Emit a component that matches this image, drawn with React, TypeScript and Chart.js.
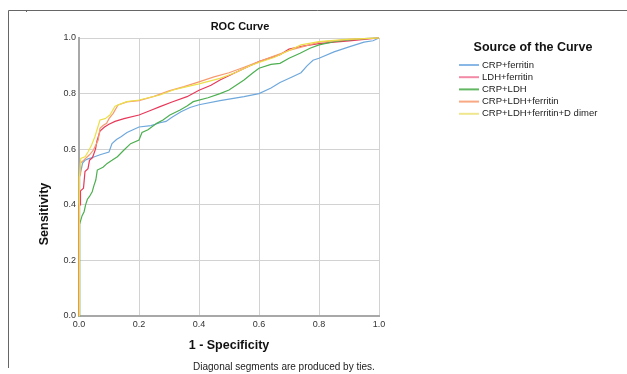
import React, { useEffect, useRef } from "react";
import { Chart, registerables } from "chart.js";

Chart.register(...registerables);

// ---- data (1 - specificity, sensitivity) ----
const seriesNames = [
  "CRP+ferritin",
  "LDH+ferritin",
  "CRP+LDH",
  "CRP+LDH+ferritin",
  "CRP+LDH+ferritin+D dimer",
];
const seriesColors = ["#6fa8dc", "#e8385a", "#4caf50", "#f79a6e", "#ece04a"];
const legendColors = ["#8ab8e6", "#f28aa6", "#62b862", "#f8a882", "#efe68e"];

const crpFerritin: [number, number][] = [
  [0, 0], [0, 0.33], [0.003, 0.34], [0.003, 0.5], [0.012, 0.55], [0.02, 0.56],
  [0.03, 0.565], [0.045, 0.57], [0.07, 0.58], [0.1, 0.59], [0.11, 0.62],
  [0.125, 0.635], [0.14, 0.645], [0.16, 0.66], [0.18, 0.67], [0.2, 0.68],
  [0.24, 0.685], [0.27, 0.695], [0.29, 0.7], [0.31, 0.715], [0.34, 0.735],
  [0.37, 0.75], [0.4, 0.76], [0.47, 0.775], [0.55, 0.789], [0.6, 0.8],
  [0.64, 0.82], [0.67, 0.84], [0.71, 0.86], [0.74, 0.875], [0.76, 0.9],
  [0.78, 0.92], [0.8, 0.927], [0.85, 0.95], [0.9, 0.968], [0.95, 0.985],
  [0.98, 0.99], [1, 1],
];

const ldhFerritin: [number, number][] = [
  [0, 0], [0, 0.4], [0.005, 0.4], [0.005, 0.45], [0.015, 0.46], [0.02, 0.52],
  [0.03, 0.53], [0.035, 0.56], [0.045, 0.57], [0.055, 0.6], [0.06, 0.63],
  [0.07, 0.665], [0.085, 0.68], [0.1, 0.69], [0.12, 0.7], [0.15, 0.71],
  [0.2, 0.723], [0.24, 0.74], [0.27, 0.753], [0.31, 0.77], [0.36, 0.789],
  [0.4, 0.812], [0.44, 0.83], [0.47, 0.849], [0.52, 0.875], [0.57, 0.9],
  [0.6, 0.915], [0.67, 0.94], [0.7, 0.96], [0.75, 0.972], [0.8, 0.98],
  [0.85, 0.985], [0.9, 0.99], [0.95, 0.995], [1, 1],
];

const crpLdh: [number, number][] = [
  [0, 0], [0, 0.17], [0.003, 0.17], [0.003, 0.33], [0.01, 0.36], [0.017, 0.375],
  [0.022, 0.4], [0.028, 0.42], [0.035, 0.43], [0.044, 0.447], [0.05, 0.47],
  [0.056, 0.489], [0.061, 0.525], [0.08, 0.535], [0.094, 0.549], [0.11, 0.56],
  [0.128, 0.573], [0.15, 0.597], [0.172, 0.62], [0.2, 0.633], [0.21, 0.66],
  [0.23, 0.67], [0.259, 0.693], [0.28, 0.705], [0.303, 0.723], [0.337, 0.741],
  [0.36, 0.755], [0.381, 0.771], [0.43, 0.785], [0.47, 0.8], [0.5, 0.813],
  [0.55, 0.849], [0.58, 0.875], [0.6, 0.891], [0.64, 0.905], [0.67, 0.909],
  [0.7, 0.927], [0.737, 0.945], [0.77, 0.963], [0.8, 0.975], [0.85, 0.987],
  [0.9, 0.993], [0.95, 0.998], [1, 1],
];

const crpLdhFerritin: [number, number][] = [
  [0, 0], [0, 0.5], [0.005, 0.51], [0.005, 0.55], [0.015, 0.56], [0.025, 0.57],
  [0.035, 0.58], [0.048, 0.597], [0.058, 0.62], [0.064, 0.633], [0.07, 0.675],
  [0.08, 0.685], [0.092, 0.693], [0.1, 0.71], [0.114, 0.729], [0.13, 0.759],
  [0.16, 0.77], [0.2, 0.775], [0.25, 0.79], [0.3, 0.81], [0.35, 0.825],
  [0.4, 0.842], [0.45, 0.86], [0.5, 0.875], [0.55, 0.895], [0.6, 0.915],
  [0.65, 0.935], [0.7, 0.955], [0.75, 0.97], [0.8, 0.985], [0.85, 0.99],
  [0.9, 0.995], [0.95, 0.998], [1, 1],
];

const crpLdhFerritinDdimer: [number, number][] = [
  [0, 0], [0, 0.5], [0.003, 0.5], [0.006, 0.567], [0.02, 0.573], [0.03, 0.59],
  [0.042, 0.615], [0.053, 0.645], [0.06, 0.67], [0.07, 0.705], [0.087, 0.71],
  [0.103, 0.723], [0.12, 0.755], [0.159, 0.771], [0.2, 0.777], [0.27, 0.795],
  [0.314, 0.813], [0.36, 0.825], [0.4, 0.835], [0.47, 0.855], [0.52, 0.875],
  [0.57, 0.9], [0.6, 0.912], [0.65, 0.93], [0.7, 0.955], [0.74, 0.975],
  [0.8, 0.987], [0.89, 0.995], [1, 1],
];

const seriesData = [crpFerritin, ldhFerritin, crpLdh, crpLdhFerritin, crpLdhFerritinDdimer];
const tickValues = [0, 0.2, 0.4, 0.6, 0.8, 1.0];

const chartTitle = "ROC Curve";
const xTitle = "1 - Specificity";
const yTitle = "Sensitivity";
const legendTitle = "Source of the Curve";
const footnote = "Diagonal segments are produced by ties.";

const FONT = "'Liberation Sans', Arial, sans-serif";

const decorPlugin = {
  id: "decor",
  afterDraw(chart: any) {
    const ctx = chart.ctx as CanvasRenderingContext2D;
    const area = chart.chartArea;
    ctx.save();
    // outer frame
    ctx.strokeStyle = "#666";
    ctx.lineWidth = 1;
    ctx.beginPath();
    ctx.moveTo(8.5, 368);
    ctx.lineTo(8.5, 10.5);
    ctx.lineTo(627, 10.5);
    ctx.stroke();
    ctx.beginPath();
    ctx.moveTo(26.5, 10);
    ctx.lineTo(26.5, 12);
    ctx.stroke();

    ctx.fillStyle = "#111";
    ctx.textBaseline = "middle";
    // title
    ctx.textAlign = "center";
    ctx.font = `bold 11px ${FONT}`;
    ctx.fillText(chartTitle, 240, 27);
    // x title
    ctx.font = `bold 12.5px ${FONT}`;
    ctx.fillText(xTitle, (area.left + area.right) / 2, 346);
    // y title
    ctx.save();
    ctx.translate(45, 214);
    ctx.rotate(-Math.PI / 2);
    ctx.fillText(yTitle, 0, 0);
    ctx.restore();
    // footnote
    ctx.textAlign = "left";
    ctx.font = `10px ${FONT}`;
    ctx.fillStyle = "#222";
    ctx.fillText(footnote, 193, 367);
    // legend
    ctx.textAlign = "center";
    ctx.fillStyle = "#111";
    ctx.font = `bold 12.5px ${FONT}`;
    ctx.fillText(legendTitle, 533, 48);
    ctx.textAlign = "left";
    ctx.font = `9.5px ${FONT}`;
    seriesNames.forEach((name, i) => {
      const y = 65 + 12.2 * i;
      ctx.strokeStyle = legendColors[i];
      ctx.lineWidth = 2;
      ctx.beginPath();
      ctx.moveTo(459, y);
      ctx.lineTo(479, y);
      ctx.stroke();
      ctx.fillStyle = "#222";
      ctx.fillText(name, 482, y);
    });
    ctx.restore();
  },
};

export default function App() {
  const ref = useRef<HTMLCanvasElement | null>(null);
  useEffect(() => {
    if (!ref.current) return;
    const axisCommon = {
      type: "linear" as const,
      min: 0,
      max: 1,
      afterBuildTicks: (s: any) => {
        s.ticks = tickValues.map((v) => ({ value: v }));
      },
      grid: { color: "#d2d2d2", lineWidth: 1, drawTicks: false },
      border: { color: "#a8a8a8", width: 2 },
      ticks: {
        color: "#333",
        font: { family: FONT, size: 9 },
        autoSkip: false,
        maxRotation: 0,
        callback: (v: any) => Number(v).toFixed(1),
      },
    };
    const chart = new Chart(ref.current, {
      type: "scatter",
      data: {
        datasets: seriesData.map((d, i) => ({
          label: seriesNames[i],
          data: d.map(([x, y]) => ({ x, y })),
          showLine: true,
          borderColor: seriesColors[i],
          backgroundColor: seriesColors[i],
          borderWidth: 1.2,
          pointRadius: 0,
          fill: false,
          tension: 0,
          clip: false as any,
          order: 5 - i,
        })),
      },
      options: {
        animation: false,
        responsive: false,
        devicePixelRatio: 1,
        layout: { padding: { top: 38, right: 248, left: 0, bottom: 0 } },
        plugins: { legend: { display: false }, tooltip: { enabled: false }, title: { display: false } },
        scales: {
          x: {
            ...axisCommon,
            afterFit: (s: any) => {
              s.height = 58;
            },
            ticks: { ...axisCommon.ticks, padding: 3 },
          },
          y: {
            ...axisCommon,
            afterFit: (s: any) => {
              s.width = 79;
            },
            ticks: { ...axisCommon.ticks, padding: 3 },
          },
        } as any,
      },
      plugins: [decorPlugin],
    });
    return () => chart.destroy();
  }, []);
  return (
    <div style={{ position: "absolute", left: 0, top: 0, width: 627, height: 374, background: "#fff" }}>
      <canvas ref={ref} width={627} height={374} style={{ width: 627, height: 374, display: "block" }} />
    </div>
  );
}
